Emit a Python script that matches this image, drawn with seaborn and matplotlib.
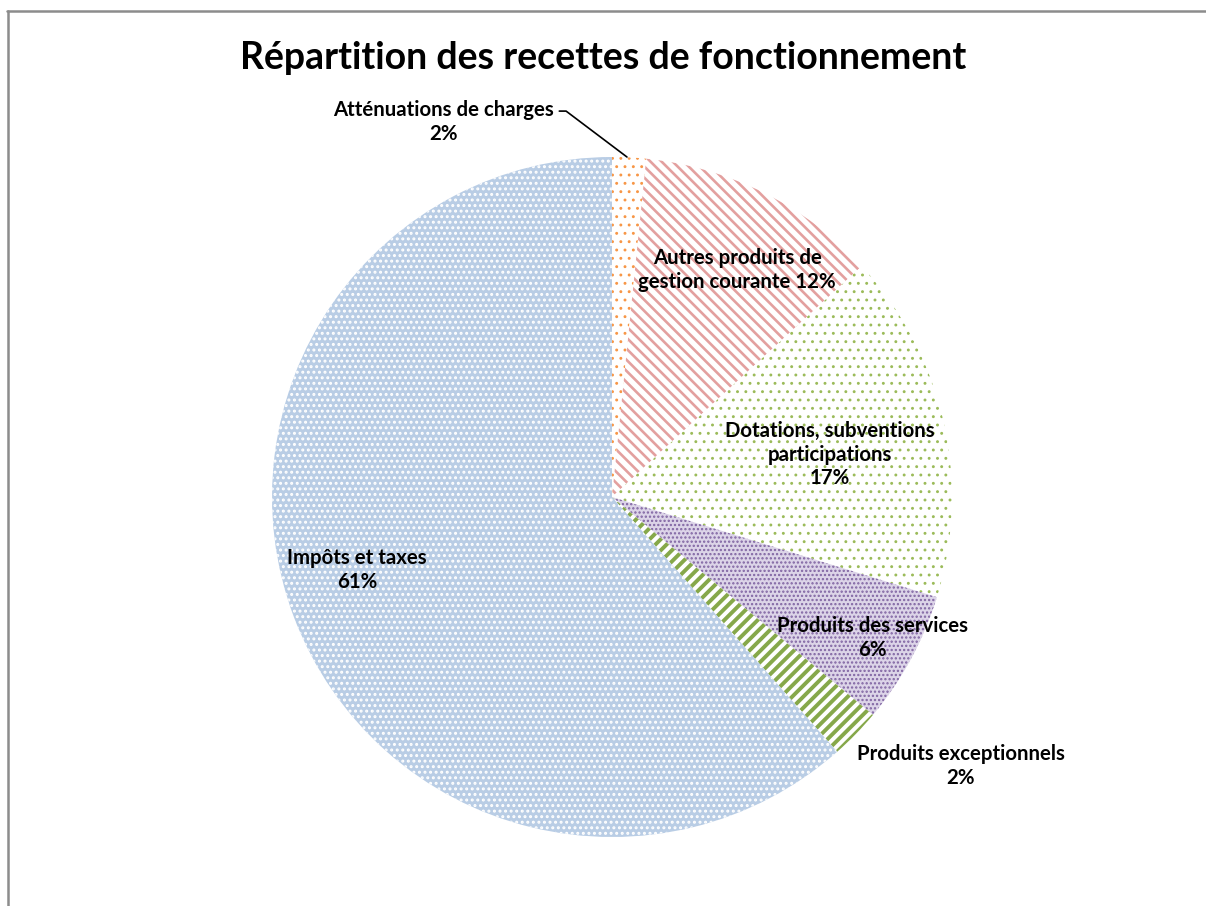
import matplotlib
matplotlib.use("Agg")
import matplotlib.pyplot as plt
import seaborn as sns
from matplotlib.lines import Line2D

# ---- data ----
categories = ["Atténuations de charges", "Autres produits de\ngestion courante",
              "Dotations, subventions\nparticipations", "Produits des services",
              "Produits exceptionnels", "Impôts et taxes"]
values = [1.6, 11.5, 16.6, 6.3, 2.4, 61.4]
title = "Répartition des recettes de fonctionnement"

# ---- styles ----
face_colors = ["#FFFFFF", "#FFFFFF", "#FFFFFF", "#DCD4E8", "#FFFFFF", "#B9CDE5"]
hatch_colors = ["#F79646", "#E3A09F", "#9BBB59", "#8064A2", "#86A84A", "#FFFFFF"]
hatches = ["..", "\\\\\\", "..", "....", "///", "..."]
hatch_lw = [0.9, 1.9, 0.9, 1.1, 2.8, 1.4]
label_pos = [(-0.497, 1.103), (0.368, 0.668), (0.641, 0.124),
             (0.765, -0.415), (1.026, -0.791), (-0.75, -0.215)]

sns.set_theme(style="white")
plt.rcParams["font.family"] = ["Lato", "DejaVu Sans"]

fig = plt.figure(figsize=(12.06, 9.06), dpi=100)
fig.patch.set_facecolor("white")
ax = fig.add_axes([272 / 1206, 69 / 906, 680 / 1206, 680 / 906])

wedges, _ = ax.pie(values, startangle=90, counterclock=False, radius=1,
                   colors=face_colors, wedgeprops=dict(linewidth=0))
for w, hc, h, lw in zip(wedges, hatch_colors, hatches, hatch_lw):
    w.set_edgecolor(hc)
    w.set_linewidth(0)
    w.set_hatch(h)
    if hasattr(w, "set_hatch_linewidth"):
        w.set_hatch_linewidth(lw)

ax.set_xlim(-1, 1)
ax.set_ylim(-1, 1)
ax.set_aspect("equal")
ax.axis("off")

for name, v, (x, y) in zip(categories, values, label_pos):
    if "\n" in name and "subventions" not in name:
        txt = f"{name} {round(v)}%"
    else:
        txt = f"{name}\n{round(v)}%"
    ax.text(x, y, txt, ha="center", va="center", fontsize=14.7, fontweight="bold",
            color="black", linespacing=1.22, clip_on=False)

# leader line for the small slice
ax.add_line(Line2D([-0.155, -0.135, 0.044], [1.135, 1.135, 1.0],
                   color="black", lw=1.2, clip_on=False))

fig.text(0.5, 1 - 58 / 906, title, ha="center", va="center",
         fontsize=27, fontweight="bold", color="black")

# chart frame
fig.add_artist(Line2D([7 / 1206, 1.0], [1 - 11 / 906, 1 - 11 / 906],
                      transform=fig.transFigure, color="#8C8C8C", lw=1.8))
fig.add_artist(Line2D([8 / 1206, 8 / 1206], [0.0, 1 - 11 / 906],
                      transform=fig.transFigure, color="#8C8C8C", lw=1.8))

fig.savefig("out.png", dpi=100, facecolor="white")
